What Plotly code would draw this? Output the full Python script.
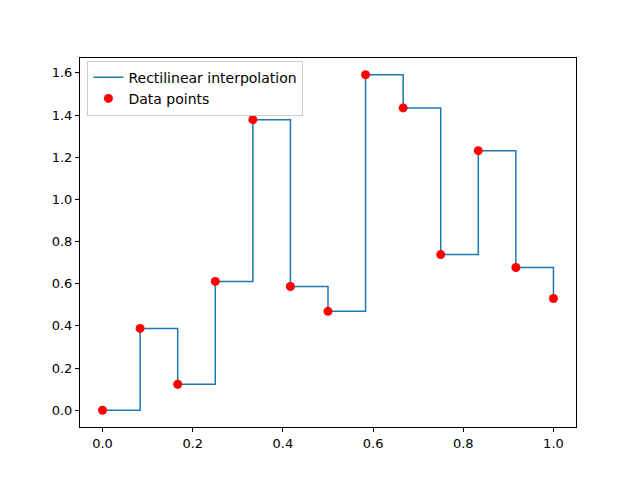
import plotly.graph_objects as go

# data
x_vals = [0, 1/12, 2/12, 3/12, 4/12, 5/12, 6/12, 7/12, 8/12, 9/12, 10/12, 11/12, 1.0]
y_vals = [0.0, 0.388, 0.123, 0.611, 1.378, 0.587, 0.469, 1.591, 1.434, 0.738, 1.231, 0.677, 0.530]

x_ticks = [0.0, 0.2, 0.4, 0.6, 0.8, 1.0]
y_ticks = [0.0, 0.2, 0.4, 0.6, 0.8, 1.0, 1.2, 1.4, 1.6]

fig = go.Figure()
fig.add_trace(go.Scatter(
    x=x_vals, y=y_vals, mode="lines", line_shape="hv",
    line=dict(color="#1f77b4", width=1.5),
    name="Rectilinear interpolation"))
fig.add_trace(go.Scatter(
    x=x_vals, y=y_vals, mode="markers",
    marker=dict(color="red", size=9),
    name="Data points"))

axis_style = dict(showgrid=False, zeroline=False, showline=True, mirror=True,
                  linecolor="black", linewidth=1, ticks="outside", ticklen=4,
                  tickcolor="black", tickfont=dict(size=13, color="black"))

fig.update_xaxes(range=[-0.05, 1.05], tickvals=x_ticks,
                 ticktext=[f"{t:.1f}" for t in x_ticks], **axis_style)
fig.update_yaxes(range=[-0.0796, 1.6706], tickvals=y_ticks,
                 ticktext=[f"{t:.1f}" for t in y_ticks], **axis_style)

# the page adds 8px around the figure, so margins are shifted to compensate
fig.update_layout(
    width=640, height=480,
    margin=dict(l=72, r=72, t=50, b=61),
    plot_bgcolor="white", paper_bgcolor="white",
    font=dict(family="DejaVu Sans", size=13, color="black"),
    legend=dict(x=0.015, y=0.993, xanchor="left", yanchor="top",
                bgcolor="rgba(255,255,255,0.8)", bordercolor="#cccccc",
                borderwidth=1, font=dict(size=14)),
)

fig.write_html("out.html")
